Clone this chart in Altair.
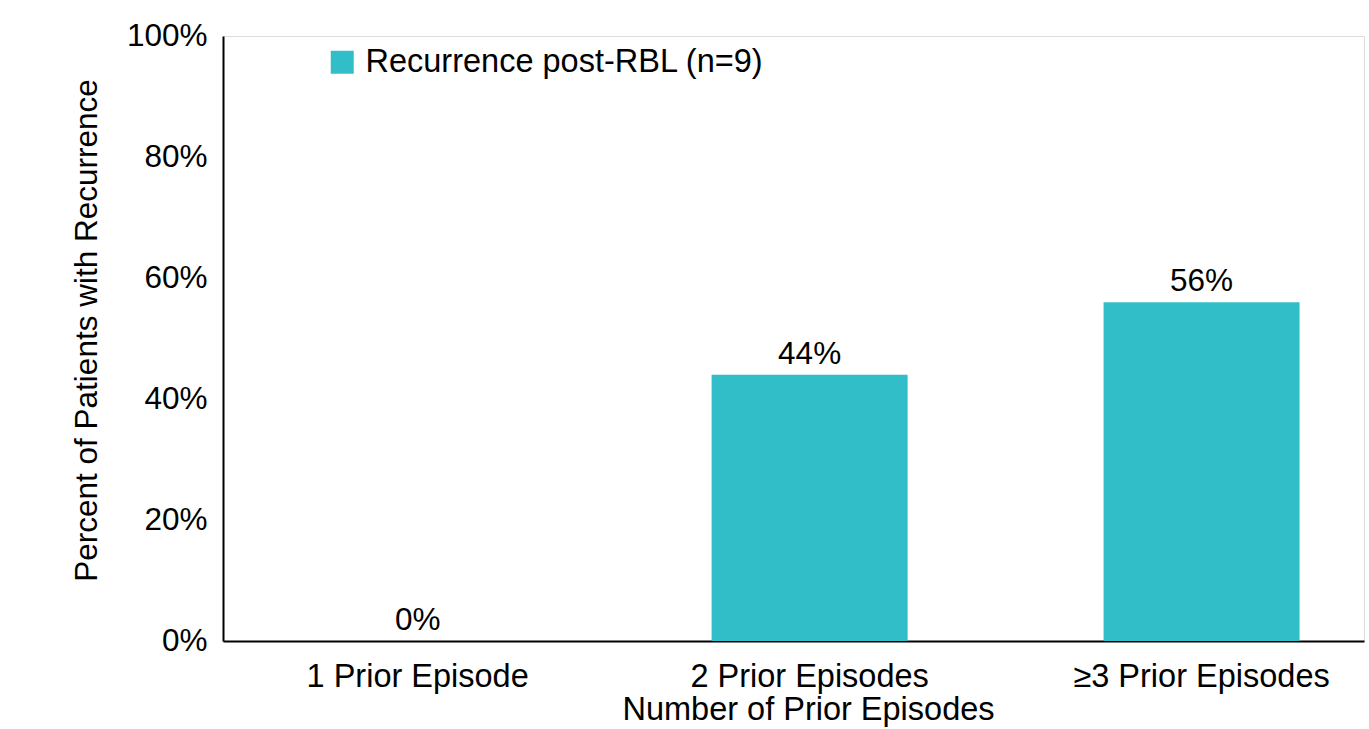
import altair as alt
import pandas as pd

# Share of patients with recurrence after RBL, by number of prior episodes
categories = ["1 Prior Episode", "2 Prior Episodes", "≥3 Prior Episodes"]
percent = [0, 44, 56]
labels = ["0%", "44%", "56%"]
series = "Recurrence post-RBL (n=9)"

df = pd.DataFrame({
    "episodes": categories,
    "percent": percent,
    "label": labels,
    "series": [series] * len(categories),
})

FONT = "Liberation Sans"
TEAL = "#32BEC8"

x_enc = alt.X(
    "episodes:N",
    sort=categories,
    scale=alt.Scale(paddingInner=0.5, paddingOuter=0.2055, align=0.6),
    axis=alt.Axis(
        title="Number of Prior Episodes",
        labelAngle=0,
        labelFontSize=32.5,
        labelColor="black",
        labelPadding=19,
        labelLimit=0,
        ticks=False,
        domainColor="black",
        domainWidth=2,
        titleFontSize=32.5,
        titleFontWeight="normal",
        titleColor="black",
        titleX=585,
        titleY=52,
        titleBaseline="top",
    ),
)

y_enc = alt.Y(
    "percent:Q",
    scale=alt.Scale(domain=[0, 100]),
    axis=alt.Axis(
        title="Percent of Patients with Recurrence",
        values=[0, 20, 40, 60, 80, 100],
        labelExpr="datum.value + '%'",
        labelFontSize=31.5,
        labelColor="black",
        labelPadding=16,
        ticks=False,
        grid=False,
        domainColor="black",
        domainWidth=2,
        titleFontSize=31.5,
        titleFontWeight="normal",
        titleColor="black",
        titleX=-136,
        titleY=294,
        titleBaseline="middle",
        titleAlign="center",
    ),
)

bars = alt.Chart(df).mark_bar(size=196).encode(
    x=x_enc,
    y=y_enc,
    color=alt.Color(
        "series:N",
        scale=alt.Scale(range=[TEAL]),
        legend=alt.Legend(
            title=None,
            orient="none",
            legendX=103,
            legendY=10,
            padding=0,
            symbolType="square",
            symbolSize=529,
            symbolStrokeWidth=0,
            symbolOpacity=1,
            labelFontSize=32.5,
            labelColor="black",
            labelOffset=7,
            labelLimit=0,
        ),
    ),
)

text = alt.Chart(df).mark_text(
    fontSize=31.5, color="black", baseline="alphabetic", dy=-11, font=FONT
).encode(
    x=alt.X("episodes:N", sort=categories),
    y=alt.Y("percent:Q"),
    text="label:N",
)

chart = (
    alt.layer(bars, text)
    .properties(
        width=1141,
        height=605,
        autosize=alt.AutoSizeParams(type="none"),
        padding={"left": 223, "top": 36, "right": 5, "bottom": 88},
        background="white",
    )
    .configure_view(stroke=None)
    .configure(font=FONT)
)

chart.save("out.html", embed_options={"renderer": "svg", "actions": False})
